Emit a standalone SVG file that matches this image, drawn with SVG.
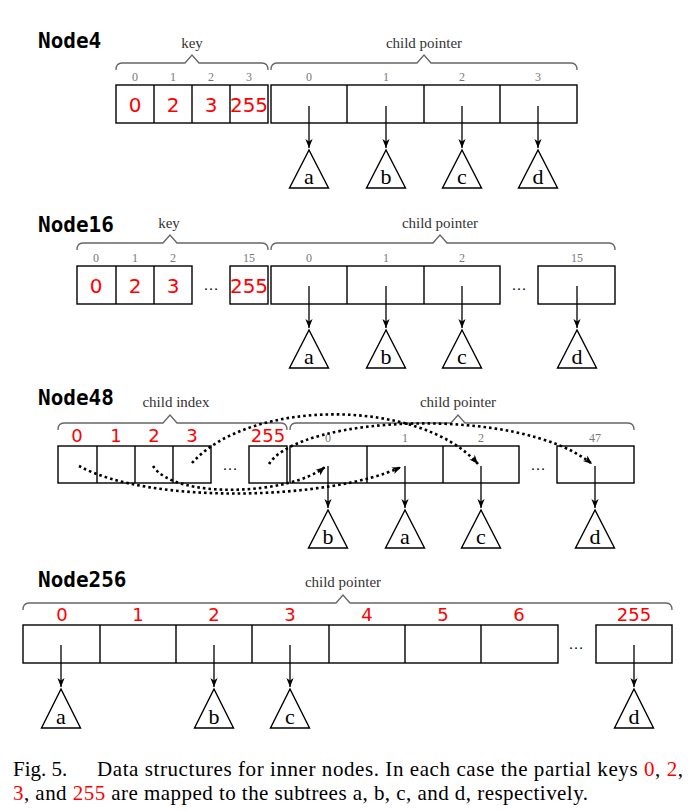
<svg xmlns="http://www.w3.org/2000/svg" width="697" height="810" viewBox="0 0 697 810">
<defs>
<marker id="ah" markerUnits="userSpaceOnUse" markerWidth="12" markerHeight="10" refX="0" refY="0" viewBox="-10 -5 12 10" orient="auto" overflow="visible">
<path d="M0,0 L-9,-3.6 L-6.5,0 L-9,3.6 Z" fill="#000"/>
</marker>
<style>
.title{font-family:"DejaVu Sans Mono",monospace;font-weight:bold;font-size:21px;fill:#000}
.lbl{font-family:"Liberation Serif","DejaVu Serif",serif;font-size:15px;fill:#333;text-anchor:middle}
.idx{font-family:"Liberation Serif","DejaVu Serif",serif;font-size:12px;fill:#777;text-anchor:middle}
.red{font-family:"DejaVu Sans",sans-serif;font-size:20px;fill:#ff0000;text-anchor:middle}
.red2{font-family:"DejaVu Sans",sans-serif;font-size:18px;fill:#ff0000;text-anchor:middle}
.cell{fill:none;stroke:#000;stroke-width:1.4}
.brace{fill:none;stroke:#666;stroke-width:1.3}
.tri{fill:#fff;stroke:#000;stroke-width:1.4;stroke-linejoin:miter}
.sub{font-family:"Liberation Serif","DejaVu Serif",serif;font-size:22px;fill:#000;text-anchor:middle}
.dots{font-family:"Liberation Serif","DejaVu Serif",serif;font-size:15px;fill:#000;text-anchor:middle}
.arr{fill:none;stroke:#000;stroke-width:1.3;marker-end:url(#ah)}
.dot{fill:none;stroke:#000;stroke-width:2.6;stroke-dasharray:2.6 3;marker-end:url(#ah)}
.cap{font-family:"Liberation Serif","Times New Roman",serif;font-size:21px;fill:#000}
.capr{fill:#ff0000}
</style>
</defs>

<!-- Node4 -->
<g id="node4">
<text class="title" x="38" y="48">Node4</text>
<path class="brace" d="M116,70 Q116,63 122,63 L185,63 L192,55 L199,63 L262,63 Q268,63 268,70"/>
<text class="lbl" x="192" y="48">key</text>
<path class="brace" d="M271,70 Q271,63 277,63 L417,63 L424,55 L431,63 L571,63 Q577,63 577,70"/>
<text class="lbl" x="424" y="48">child pointer</text>
<text class="idx" x="135" y="81">0</text><text class="idx" x="173" y="81">1</text><text class="idx" x="211" y="81">2</text><text class="idx" x="249" y="81">3</text>
<text class="idx" x="309" y="81">0</text><text class="idx" x="386" y="81">1</text><text class="idx" x="462" y="81">2</text><text class="idx" x="538" y="81">3</text>
<rect class="cell" x="116" y="85" width="152" height="38"/>
<path class="cell" d="M154,85 V123 M192,85 V123 M230,85 V123"/>
<rect class="cell" x="271" y="85" width="306" height="38"/>
<path class="cell" d="M347,85 V123 M424,85 V123 M500,85 V123"/>
<text class="red" x="135" y="112">0</text><text class="red" x="173" y="112">2</text><text class="red" x="211" y="112">3</text><text class="red" x="249" y="112">255</text>
<polygon class="tri" points="309,150 289.5,188 328.5,188"/><text class="sub" x="309" y="184">a</text>
<polygon class="tri" points="386,150 366.5,188 405.5,188"/><text class="sub" x="386" y="184">b</text>
<polygon class="tri" points="462,150 442.5,188 481.5,188"/><text class="sub" x="462" y="184">c</text>
<polygon class="tri" points="538,150 518.5,188 557.5,188"/><text class="sub" x="538" y="184">d</text>
</g>

<!-- Node16 -->
<g id="node16">
<text class="title" x="38" y="232">Node16</text>
<path class="brace" d="M77,250 Q77,243 83,243 L163,243 L170,235 L177,243 L262,243 Q268,243 268,250"/>
<text class="lbl" x="169" y="228">key</text>
<path class="brace" d="M271,250 Q271,243 277,243 L433,243 L440,235 L447,243 L609,243 Q615,243 615,250"/>
<text class="lbl" x="440" y="228">child pointer</text>
<text class="idx" x="96" y="262">0</text><text class="idx" x="135" y="262">1</text><text class="idx" x="173" y="262">2</text><text class="idx" x="249" y="262">15</text>
<text class="idx" x="309" y="262">0</text><text class="idx" x="386" y="262">1</text><text class="idx" x="462" y="262">2</text><text class="idx" x="577" y="262">15</text>
<rect class="cell" x="77" y="266" width="115" height="38"/>
<path class="cell" d="M116,266 V304 M154,266 V304"/>
<rect class="cell" x="230" y="266" width="38" height="38"/>
<text class="dots" x="211" y="290">…</text>
<rect class="cell" x="271" y="266" width="229" height="38"/>
<path class="cell" d="M347,266 V304 M424,266 V304"/>
<rect class="cell" x="538" y="266" width="77" height="38"/>
<text class="dots" x="519" y="290">…</text>
<text class="red" x="96" y="293">0</text><text class="red" x="135" y="293">2</text><text class="red" x="173" y="293">3</text><text class="red" x="249" y="293">255</text>
<polygon class="tri" points="309,330 289.5,368 328.5,368"/><text class="sub" x="309" y="364">a</text>
<polygon class="tri" points="386,330 366.5,368 405.5,368"/><text class="sub" x="386" y="364">b</text>
<polygon class="tri" points="462,330 442.5,368 481.5,368"/><text class="sub" x="462" y="364">c</text>
<polygon class="tri" points="577,330 557.5,368 596.5,368"/><text class="sub" x="577" y="364">d</text>
</g>

<!-- Node48 -->
<g id="node48">
<text class="title" x="38" y="405">Node48</text>
<path class="brace" d="M58,430 Q58,423 64,423 L163,423 L170,415 L177,423 L281,423 Q287,423 287,430"/>
<text class="lbl" x="176" y="407">child index</text>
<path class="brace" d="M290,430 Q290,423 296,423 L451,423 L458,415 L465,423 L628,423 Q634,423 634,430"/>
<text class="lbl" x="458" y="407">child pointer</text>
<text class="red2" x="77" y="442">0</text><text class="red2" x="116" y="442">1</text><text class="red2" x="154" y="442">2</text><text class="red2" x="192" y="442">3</text><text class="red2" x="268" y="442">255</text>
<text class="idx" x="328" y="442">0</text><text class="idx" x="405" y="442">1</text><text class="idx" x="481" y="442">2</text><text class="idx" x="595" y="442">47</text>
<rect class="cell" x="58" y="446" width="153" height="37"/>
<path class="cell" d="M97,446 V483 M135,446 V483 M173,446 V483"/>
<rect class="cell" x="249" y="446" width="38" height="37"/>
<text class="dots" x="230" y="470">…</text>
<rect class="cell" x="290" y="446" width="229" height="37"/>
<path class="cell" d="M367,446 V483 M443,446 V483"/>
<rect class="cell" x="557" y="446" width="77" height="37"/>
<text class="dots" x="538" y="470">…</text>
<polygon class="tri" points="328,510 308.5,548 347.5,548"/><text class="sub" x="328" y="544">b</text>
<polygon class="tri" points="405,510 385.5,548 424.5,548"/><text class="sub" x="405" y="544">a</text>
<polygon class="tri" points="481,510 461.5,548 500.5,548"/><text class="sub" x="481" y="544">c</text>
<polygon class="tri" points="595,510 575.5,548 614.5,548"/><text class="sub" x="595" y="544">d</text>
</g>

<!-- Node256 -->
<g id="node256">
<text class="title" x="38" y="587">Node256</text>
<path class="brace" d="M23,610 Q23,603 29,603 L336,603 L343,595 L350,603 L666,603 Q672,603 672,610"/>
<text class="lbl" x="343" y="587">child pointer</text>
<text class="red2" x="62" y="621">0</text><text class="red2" x="138" y="621">1</text><text class="red2" x="214" y="621">2</text><text class="red2" x="290" y="621">3</text><text class="red2" x="367" y="621">4</text><text class="red2" x="443" y="621">5</text><text class="red2" x="519" y="621">6</text><text class="red2" x="634" y="621">255</text>
<rect class="cell" x="23" y="625" width="535" height="38"/>
<path class="cell" d="M100,625 V663 M176,625 V663 M252,625 V663 M329,625 V663 M405,625 V663 M481,625 V663"/>
<rect class="cell" x="596" y="625" width="76" height="38"/>
<text class="dots" x="576" y="649">…</text>
<polygon class="tri" points="61,689 41.5,728 80.5,728"/><text class="sub" x="61" y="724">a</text>
<polygon class="tri" points="214,689 194.5,728 233.5,728"/><text class="sub" x="214" y="724">b</text>
<polygon class="tri" points="290,689 270.5,728 309.5,728"/><text class="sub" x="290" y="724">c</text>
<polygon class="tri" points="634,689 614.5,728 653.5,728"/><text class="sub" x="634" y="724">d</text>
</g>

<!-- connectors -->
<g id="connectors">
<path class="arr" d="M309,106 V148"/><path class="arr" d="M386,106 V148"/><path class="arr" d="M462,106 V148"/><path class="arr" d="M538,106 V148"/>
<path class="arr" d="M309,286 V328"/><path class="arr" d="M386,286 V328"/><path class="arr" d="M462,286 V328"/><path class="arr" d="M577,286 V328"/>
<path class="arr" d="M328,466 V508"/><path class="arr" d="M405,466 V508"/><path class="arr" d="M481,466 V508"/><path class="arr" d="M595,466 V508"/>
<path class="arr" d="M61,645 V687"/><path class="arr" d="M214,645 V687"/><path class="arr" d="M290,645 V687"/><path class="arr" d="M634,645 V687"/>
<path class="dot" d="M79,466 C150,505 330,500 401,467"/>
<path class="dot" d="M153,466 C175,500 290,495 325,467"/>
<path class="dot" d="M192,463 C250,398 420,398 478,464"/>
<path class="dot" d="M269,464 C300,415 520,405 592,464"/>
</g>

<!-- caption -->
<g id="caption">
<text class="cap" x="13" y="776">Fig. 5.</text>
<text class="cap" x="97" y="776" textLength="586" lengthAdjust="spacing">Data structures for inner nodes. In each case the partial keys <tspan class="capr">0</tspan>, <tspan class="capr">2</tspan>,</text>
<text class="cap" x="13" y="800" textLength="575" lengthAdjust="spacing"><tspan class="capr">3</tspan>, and <tspan class="capr">255</tspan> are mapped to the subtrees a, b, c, and d, respectively.</text>
</g>
</svg>
